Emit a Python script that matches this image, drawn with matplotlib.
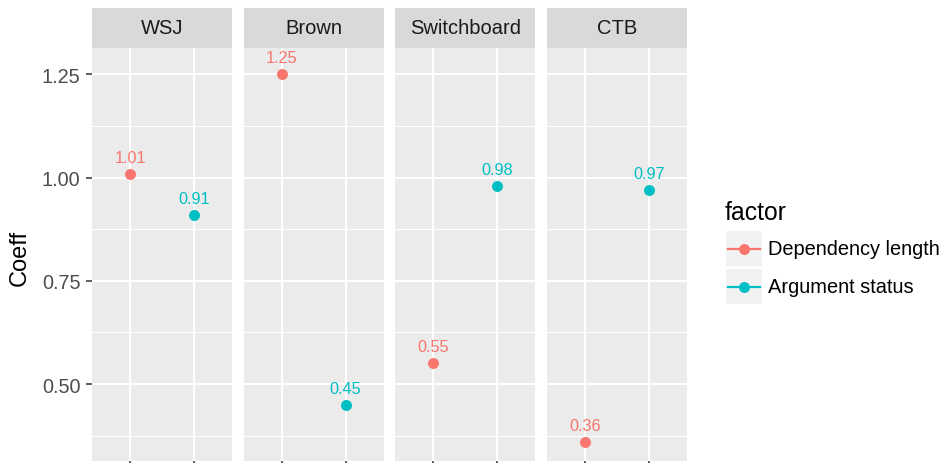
import matplotlib
matplotlib.use("Agg")
import matplotlib.pyplot as plt
from matplotlib.patches import Rectangle
from matplotlib.lines import Line2D

# data
corpora = ["WSJ", "Brown", "Switchboard", "CTB"]
factors = ["Dependency length", "Argument status"]
dep_length = [1.01, 1.25, 0.55, 0.36]
arg_status = [0.91, 0.45, 0.98, 0.97]
y_ticks = [0.50, 0.75, 1.00, 1.25]

colors = ["#F8766D", "#00BFC4"]
plt.rcParams["font.family"] = ["Liberation Sans", "DejaVu Sans"]

W, H = 944, 464
fig = plt.figure(figsize=(W / 100, H / 100), dpi=100)

def px_box(x0, y0, x1, y1):
    # pixel box (top-left origin) -> figure fraction
    return [x0 / W, (H - y1) / H, (x1 - x0) / W, (y1 - y0) / H]

lefts = [92, 243.7, 395.3, 547]
pw = 140
ylim = (0.3135, 1.3142)

for i, name in enumerate(corpora):
    ax = fig.add_axes(px_box(lefts[i], 49, lefts[i] + pw, 462))
    ax.set_facecolor("#EBEBEB")
    for s in ax.spines.values():
        s.set_visible(False)
    ax.set_xlim(0.4, 2.6)
    ax.set_ylim(*ylim)
    # grid
    for yv in y_ticks:
        ax.axhline(yv, color="white", lw=1.5, zorder=1)
    for yv in [0.375, 0.625, 0.875, 1.125]:
        ax.axhline(yv, color="white", lw=0.75, zorder=1)
    for xv in [1, 2]:
        ax.axvline(xv, color="white", lw=1.5, zorder=1)

    vals = [dep_length[i], arg_status[i]]
    for j, v in enumerate(vals):
        ax.plot(j + 1, v, "o", color=colors[j], ms=7.9, mec="none", zorder=3)
        ax.text(j + 1, v + 0.04, f"{v:.2f}", color=colors[j], fontsize=11.7,
                ha="center", va="center", zorder=4)

    ax.set_xticks([1, 2])
    ax.set_xticklabels(["", ""])
    ax.tick_params(axis="x", length=4.3, width=1.1, color="#333333")
    ax.set_yticks(y_ticks)
    if i == 0:
        ax.set_yticklabels([f"{t:.2f}" for t in y_ticks])
        ax.tick_params(axis="y", length=4.3, width=1.1, color="#333333",
                       labelcolor="#4D4D4D", labelsize=14.3, pad=4)
    else:
        ax.set_yticklabels([])
        ax.tick_params(axis="y", length=0)

    # strip
    sax = fig.add_axes(px_box(lefts[i], 9, lefts[i] + pw, 49))
    sax.set_facecolor("#D9D9D9")
    sax.set_xticks([])
    sax.set_yticks([])
    for s in sax.spines.values():
        s.set_visible(False)
    sax.text(0.5, 0.5, name, ha="center", va="center", fontsize=14.5,
             color="#1A1A1A", transform=sax.transAxes)

fig.text(20 / W, 1 - 258 / H, "Coeff", rotation=90, ha="center", va="center",
         fontsize=17, color="black")

# legend drawn on an overlay in pixel units
lax = fig.add_axes([0, 0, 1, 1])
lax.set_xlim(0, W)
lax.set_ylim(H, 0)
lax.axis("off")
lax.text(725, 213, "factor", ha="left", va="center", fontsize=17.8)
key_top = [232, 270]
for j, lab in enumerate(factors):
    y0 = key_top[j]
    lax.add_patch(Rectangle((726, y0), 36, 35, facecolor="#F2F2F2", edgecolor="none"))
    cy = y0 + 17.5
    lax.add_line(Line2D([728, 760], [cy, cy], color=colors[j], lw=1.6))
    lax.plot(744, cy, "o", color=colors[j], ms=7.9, mec="none")
    lax.text(768, cy, lab, ha="left", va="center", fontsize=14.4)

fig.savefig("out.png", dpi=100)
